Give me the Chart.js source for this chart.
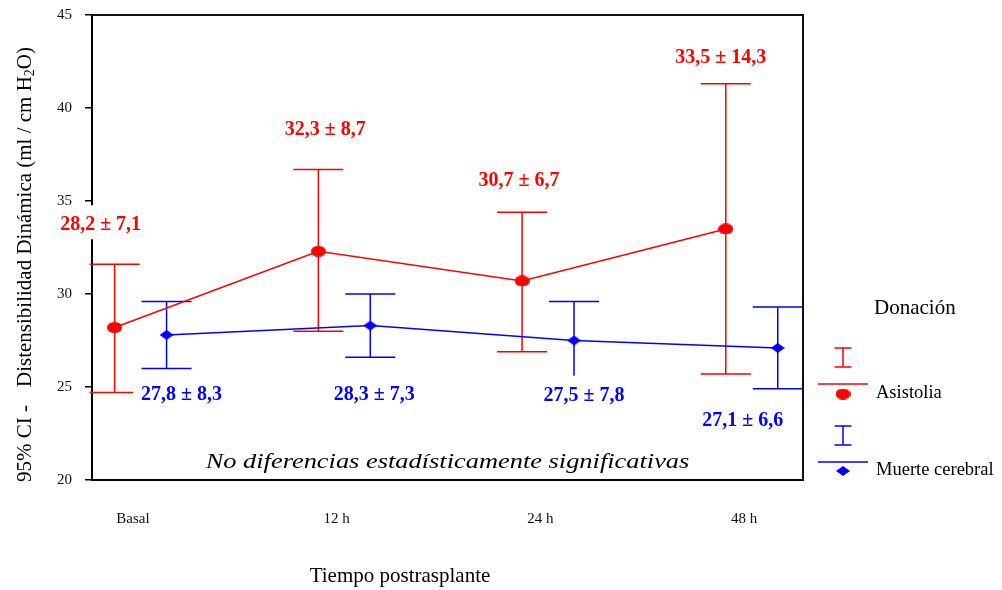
<!DOCTYPE html>
<html>
<head>
<meta charset="utf-8">
<script src="https://cdn.jsdelivr.net/npm/chart.js@4.4.1/dist/chart.umd.min.js"></script>
<style>
  html, body { margin: 0; padding: 0; background: #fff; }
</style>
</head>
<body>
<canvas id="chart" width="1002" height="590"></canvas>
<script>
// Tiempos de medida y escala del eje Y
const timePoints = ['Basal', '12 h', '24 h', '48 h'];
const yMin = 20, yMax = 45, yStep = 5;

// Asistolia: media, DE y límites del IC 95%
const asisMean = [28.2, 32.3, 30.7, 33.5];
const asisSD = [7.1, 8.7, 6.7, 14.3];
const asisLow = [24.7, 28.0, 26.9, 25.7];
const asisHigh = [31.6, 36.7, 34.4, 41.3];

// Muerte cerebral: media, DE y límites del IC 95%
const mcMean = [27.8, 28.3, 27.5, 27.1];
const mcSD = [8.3, 7.3, 7.8, 6.6];
const mcLow = [26.0, 26.6, 25.5, 24.9];
const mcHigh = [29.6, 30.0, 29.6, 29.3];

// desplazamiento horizontal de cada serie dentro de su categoría
const ASIS_SHIFT = -0.09;
const MC_SHIFT = 0.165;
const CAP = 25;
const RED = '#ff0000';
const BLUE = '#0000ff';
const SERIF = "'Liberation Serif', 'Times New Roman', serif";

// posición de las etiquetas de valor (px) respecto al extremo de la barra
const asisLabelOff = [[-14, -39], [7, -40], [-3, -31], [-5, -26]];
const mcLabelOff = [[15, 26], [4, 38], [10, 18], [-35, 32]];

// marcadores: elipse roja y rombo azul
function makeMarker(w, h, draw) {
    const c = document.createElement('canvas');
    c.width = w; c.height = h;
    draw(c.getContext('2d'), w, h);
    return c;
}
const redDot = makeMarker(15, 11, (g, w, h) => {
    g.fillStyle = RED;
    g.beginPath();
    g.ellipse(w / 2, h / 2, w / 2, h / 2, 0, 0, Math.PI * 2);
    g.fill();
});
const blueDiamond = makeMarker(14, 10, (g, w, h) => {
    g.fillStyle = BLUE;
    g.beginPath();
    g.moveTo(w / 2, 0); g.lineTo(w, h / 2); g.lineTo(w / 2, h); g.lineTo(0, h / 2);
    g.closePath();
    g.fill();
});

const fmt = v => v.toFixed(1).replace('.', ',');

function series(label, means, shift, color, marker, low, high, sd, offs) {
    return {
        label: label,
        data: means.map((m, i) => ({ x: i + shift, y: m })),
        borderColor: color,
        backgroundColor: color,
        borderWidth: 1.5,
        showLine: true,
        pointStyle: marker,
        pointRadius: 7,
        ciLow: low,
        ciHigh: high,
        sd: sd,
        labelOff: offs
    };
}

// barras de error (IC 95%) bajo las líneas
const errorBars = {
    id: 'errorBars',
    beforeDatasetsDraw(chart) {
        const { ctx, scales: { y } } = chart;
        chart.data.datasets.forEach((ds, di) => {
            const meta = chart.getDatasetMeta(di);
            ctx.save();
            ctx.strokeStyle = ds.borderColor;
            ctx.lineWidth = 1.5;
            meta.data.forEach((pt, i) => {
                const top = y.getPixelForValue(ds.ciHigh[i]);
                const bot = y.getPixelForValue(ds.ciLow[i]);
                ctx.beginPath();
                ctx.moveTo(pt.x, top); ctx.lineTo(pt.x, bot);
                ctx.moveTo(pt.x - CAP, top); ctx.lineTo(pt.x + CAP, top);
                ctx.moveTo(pt.x - CAP, bot); ctx.lineTo(pt.x + CAP, bot);
                ctx.stroke();
            });
            ctx.restore();
        });
    }
};

// marco, etiquetas, títulos de ejes y leyenda
const decorations = {
    id: 'decorations',
    afterDraw(chart) {
        const { ctx, chartArea: a, scales: { y } } = chart;
        ctx.save();

        // lados superior y derecho del marco
        ctx.strokeStyle = '#111';
        ctx.lineWidth = 2;
        ctx.beginPath();
        ctx.moveTo(a.left, a.top); ctx.lineTo(a.right, a.top); ctx.lineTo(a.right, a.bottom);
        ctx.stroke();

        // etiquetas media ± DE con fondo blanco
        ctx.font = 'bold 20px ' + SERIF;
        ctx.textAlign = 'center';
        ctx.textBaseline = 'middle';
        chart.data.datasets.forEach((ds, di) => {
            const meta = chart.getDatasetMeta(di);
            meta.data.forEach((pt, i) => {
                const upper = di === 0;
                const edge = y.getPixelForValue(upper ? ds.ciHigh[i] : ds.ciLow[i]);
                const cx = pt.x + ds.labelOff[i][0];
                const cy = edge + ds.labelOff[i][1];
                const txt = fmt(ds.data[i].y) + ' ± ' + fmt(ds.sd[i]);
                const w = ctx.measureText(txt).width;
                ctx.fillStyle = '#fff';
                ctx.fillRect(cx - w / 2 - 8, cy - 20, w + 16, 34);
                ctx.fillStyle = ds.borderColor;
                ctx.fillText(txt, cx, cy);
            });
        });

        // nota central
        ctx.save();
        ctx.fillStyle = '#000';
        ctx.font = 'italic 22px ' + SERIF;
        ctx.translate((a.left + a.right) / 2, a.bottom - 18);
        ctx.scale(1.2, 1);
        ctx.fillText('No diferencias estadísticamente significativas', 0, 0);
        ctx.restore();

        // título del eje X
        ctx.fillStyle = '#000';
        ctx.font = '21px ' + SERIF;
        ctx.fillText('Tiempo postrasplante', 400, 576);

        // título del eje Y (vertical, con subíndice)
        ctx.save();
        ctx.translate(25, 482);
        ctx.rotate(-Math.PI / 2);
        ctx.textAlign = 'left';
        let x = 0;
        const part = (t, font, dy) => {
            ctx.font = font;
            ctx.fillText(t, x, dy);
            x += ctx.measureText(t).width;
        };
        part('95% CI -', '21px ' + SERIF, 0);
        x += 18;
        part('Distensibilidad Dinámica (ml / cm H', '21px ' + SERIF, 0);
        part('2', '14px ' + SERIF, 5);
        part('O)', '21px ' + SERIF, 0);
        ctx.restore();

        // leyenda
        const ix = a.right + 40;
        const tx = a.right + 73;
        ctx.textAlign = 'left';
        ctx.fillStyle = '#000';
        ctx.font = '21px ' + SERIF;
        ctx.fillText('Donación', a.right + 71, 308);

        const legendItem = (color, marker, barTop, barBot, lineY, markY, text, textY) => {
            ctx.strokeStyle = color;
            ctx.lineWidth = 1.5;
            ctx.beginPath();
            ctx.moveTo(ix, barTop); ctx.lineTo(ix, barBot);
            ctx.moveTo(ix - 8.5, barTop); ctx.lineTo(ix + 8.5, barTop);
            ctx.moveTo(ix - 8.5, barBot); ctx.lineTo(ix + 8.5, barBot);
            ctx.moveTo(ix - 25, lineY); ctx.lineTo(ix + 25, lineY);
            ctx.stroke();
            ctx.drawImage(marker, ix - marker.width / 2, markY - marker.height / 2);
            ctx.fillStyle = '#000';
            ctx.font = '18.5px ' + SERIF;
            ctx.fillText(text, tx, textY);
        };
        legendItem(RED, redDot, 348, 367, 384, 394, 'Asistolia', 393);
        legendItem(BLUE, blueDiamond, 426, 445, 462, 471, 'Muerte cerebral', 470);

        ctx.restore();
    }
};

const ctx = document.getElementById('chart').getContext('2d');
const chart = new Chart(ctx, {
    type: 'scatter',
    data: {
        datasets: [
            series('Asistolia', asisMean, ASIS_SHIFT, RED, redDot, asisLow, asisHigh, asisSD, asisLabelOff),
            series('Muerte cerebral', mcMean, MC_SHIFT, BLUE, blueDiamond, mcLow, mcHigh, mcSD, mcLabelOff)
        ]
    },
    options: {
        responsive: false,
        animation: false,
        layout: { padding: { top: 15, right: 199, left: 0, bottom: 0 } },
        plugins: {
            legend: { display: false },
            tooltip: { enabled: false }
        },
        scales: {
            x: {
                type: 'linear',
                min: -0.201,
                max: 3.289,
                afterBuildTicks: scale => {
                    scale.ticks = timePoints.map((t, i) => ({ value: i }));
                },
                afterFit: scale => {
                    scale.height = 110;
                    scale.paddingLeft = 0;
                    scale.paddingRight = 0;
                },
                ticks: {
                    callback: v => timePoints[v],
                    font: { family: SERIF, size: 15 },
                    color: '#111',
                    padding: 30,
                    maxRotation: 0
                },
                grid: { display: false, drawTicks: false },
                border: { color: '#000', width: 2 }
            },
            y: {
                min: yMin,
                max: yMax,
                afterFit: scale => {
                    scale.width = 92;
                    scale.paddingTop = 0;
                    scale.paddingBottom = 0;
                },
                ticks: {
                    stepSize: yStep,
                    font: { family: SERIF, size: 15 },
                    color: '#111',
                    padding: 13
                },
                grid: { drawOnChartArea: false, tickLength: 7, color: '#000', lineWidth: 1.5 },
                border: { color: '#000', width: 2 }
            }
        }
    },
    plugins: [errorBars, decorations]
});
</script>
</body>
</html>
